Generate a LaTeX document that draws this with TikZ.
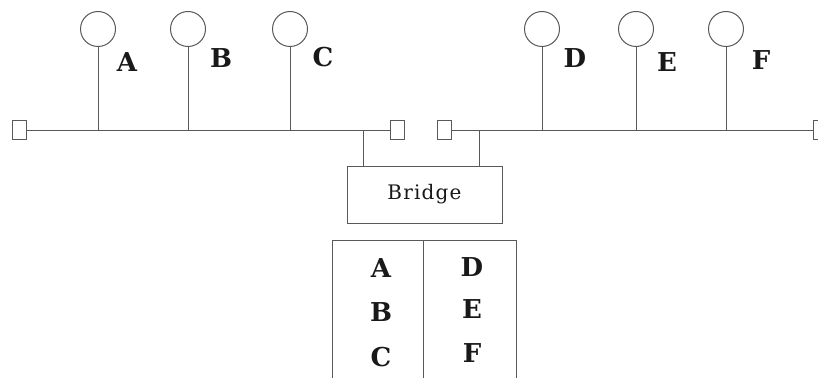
\documentclass[tikz,border=0pt]{standalone}
\usepackage{fontspec}
\newfontfamily\labfont{DejaVu Serif}
\newfontfamily\brfont[LetterSpace=6]{DejaVu Serif}
\begin{document}
\begin{tikzpicture}[x=1pt,y=-1pt,
  ln/.style={draw=black!65,line width=1pt},
  station/.style={circle,ln,minimum size=35pt,inner sep=0pt},
  term/.style={rectangle,ln,minimum width=14pt,minimum height=19pt,inner sep=0pt},
  lab/.style={font=\labfont\bfseries\fontsize{26}{26}\selectfont,inner sep=0pt,text=black!90},
  tlab/.style={font=\labfont\bfseries\fontsize{26}{26}\selectfont,inner sep=0pt,text=black!90}]
\useasboundingbox (0,0) rectangle (818,377);
% left bus
\node[term] (tl1) at (19,130) {};
\node[term] (tl2) at (397,130) {};
\draw[ln] (tl1.east) -- (tl2.west);
% right bus
\node[term] (tr1) at (444,130) {};
\node[term] (tr2) at (820,130) {};
\draw[ln] (tr1.east) -- (tr2.west);
% stations
\foreach \n/\x/\lx/\ly in {A/98/127/62,B/188/221/58,C/290/323/57,D/542/575/58,E/636/667/62,F/726/761/60}{
  \node[station] (s\n) at (\x,29) {};
  \coordinate (b\n) at (\x,130);
  \draw[ln] (s\n.south) -- (b\n);
  \node[lab] (l\n) at (\lx,\ly) {\n};
}
% bridge
\node[rectangle,ln,minimum width=155pt,minimum height=57pt,inner sep=0pt,
  font=\brfont\fontsize{20}{20}\selectfont,text=black!90] (br) at (424.5,194.5) {Bridge};
\coordinate (jl) at (363,130);
\coordinate (jr) at (479,130);
\draw[ln] (jl) -- (jl |- br.north);
\draw[ln] (jr) -- (jr |- br.north);
% table
\coordinate (t1) at (332,240);
\coordinate (t2) at (516,240);
\coordinate (td) at (423,240);
\draw[ln] (332,385) -- (t1) -- (t2) -- (516,385);
\draw[ln] (td) -- (423,385);
\node[tlab] (ta) at (381,268) {A};
\node[tlab] (tb) at (381,312) {B};
\node[tlab] (tc) at (381,357) {C};
\node[tlab] (tdd) at (472,267) {D};
\node[tlab] (te) at (472,309) {E};
\node[tlab] (tf) at (472,353) {F};
\end{tikzpicture}
\end{document}
